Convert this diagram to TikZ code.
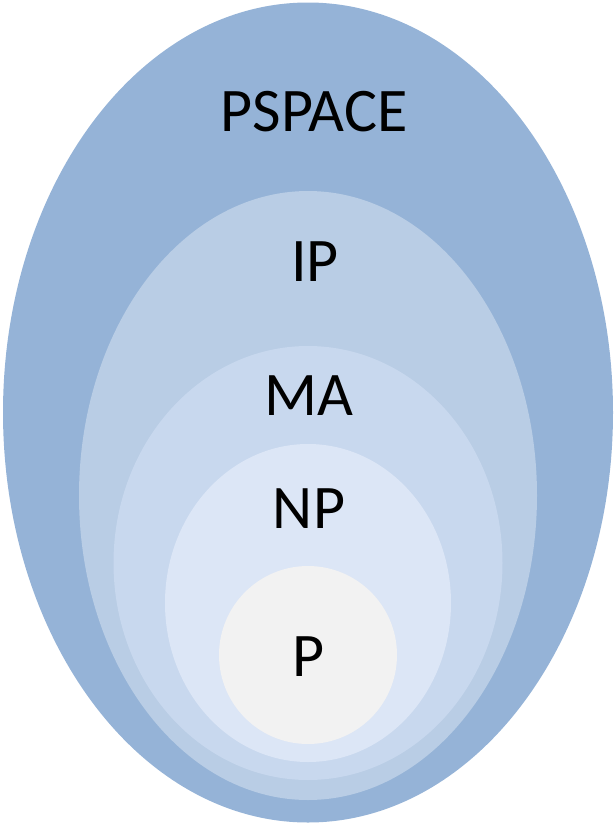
\documentclass[tikz,border=0pt]{standalone}
\usepackage{fontspec}
\setmainfont{Carlito}
\usepackage{tikz}
\usetikzlibrary{shapes.geometric}
\definecolor{pspacecol}{HTML}{95B3D7}
\definecolor{ipcol}{HTML}{B9CDE5}
\definecolor{macol}{HTML}{C8D8EE}
\definecolor{npcol}{HTML}{DCE6F6}
\definecolor{pcol}{HTML}{F2F2F2}

\begin{document}
\begin{tikzpicture}[
    x=1pt, y=-1pt,
    cls/.style={ellipse, draw=none, inner sep=0pt, outer sep=0pt},
    clsname/.style={anchor=base, inner sep=0pt, font=\fontsize{62}{74}\selectfont},
]
\useasboundingbox (0,0) rectangle (615,825);

% Nested complexity classes
\node[cls, fill=pspacecol, minimum width=610pt, minimum height=820pt] (pspace) at (308,412.5) {};
\node[cls, fill=ipcol, minimum width=458pt, minimum height=609pt] (ip) at (308,495.5) {};
\node[cls, fill=macol, minimum width=389pt, minimum height=434pt] (ma) at (308,563) {};
\node[cls, fill=npcol, minimum width=286pt, minimum height=318pt] (np) at (308,603) {};
\node[cls, fill=pcol, minimum width=178pt, minimum height=178pt] (p) at (308,655) {};

% Class names
\node[clsname] (pspacelbl) at (314,131) {PSPACE};
\node[clsname] (iplbl) at (315,281) {IP};
\node[clsname] (malbl) at (309,415) {MA};
\node[clsname] (nplbl) at (309,528) {NP};
\node[clsname] (plbl) at (309,676) {P};

\end{tikzpicture}
\end{document}
